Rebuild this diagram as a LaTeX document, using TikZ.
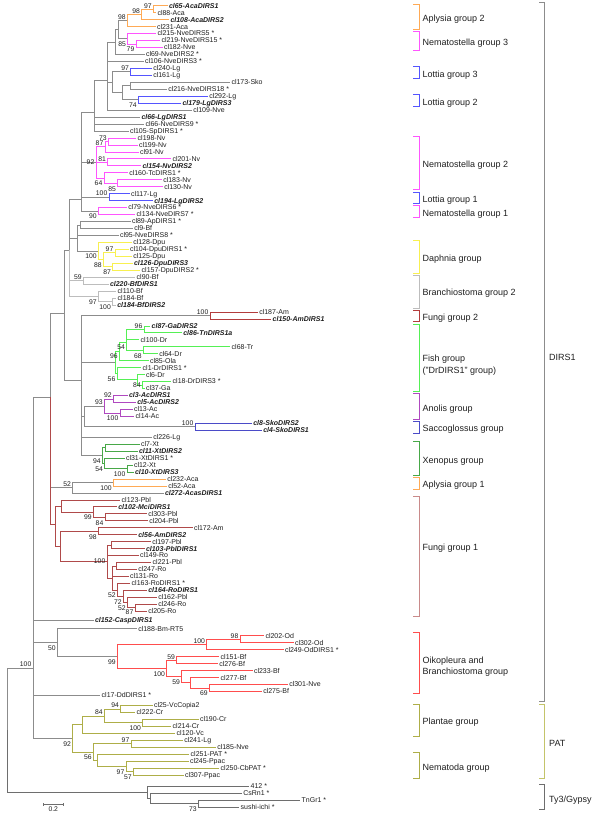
\documentclass[tikz,border=0pt]{standalone}
\usepackage{fontspec}
\setmainfont{Liberation Sans}
\usepackage{xcolor}
\definecolor{leaftxt}{HTML}{1E1E1E}
\definecolor{treegray}{HTML}{8C8C8C}
\definecolor{bflight}{HTML}{BDBDBD}
\definecolor{aplorange}{HTML}{FFAA55}
\definecolor{nvmag}{HTML}{FF55FF}
\definecolor{lgblue}{HTML}{5555FF}
\definecolor{dpuyel}{HTML}{F8F050}
\definecolor{fungitwo}{HTML}{B33C3C}
\definecolor{fishgrn}{HTML}{55F055}
\definecolor{anopurp}{HTML}{B048C0}
\definecolor{skoblue}{HTML}{4B4BC8}
\definecolor{xtgrn}{HTML}{48A848}
\definecolor{fungione}{HTML}{B04A4A}
\definecolor{fungibar}{HTML}{C98A8A}
\definecolor{oikred}{HTML}{FF4D4D}
\definecolor{patolive}{HTML}{AEAE48}
\definecolor{patbar}{HTML}{C4C46A}
\definecolor{tygray}{HTML}{6E6E6E}
\tikzset{
  leaf/.style={anchor=west,inner sep=1.3pt,font=\fontsize{7}{8}\selectfont,text=leaftxt,text height=5.3pt,text depth=0.5pt},
  keyleaf/.style={leaf,font=\fontsize{7}{8}\selectfont\bfseries\itshape},
  bsbase/.style={inner sep=0pt,font=\fontsize{6.8}{7}\selectfont,text=leaftxt},
  bsa/.style={bsbase,anchor=south east,xshift=-1.5pt,yshift=0.9pt},
  bsb/.style={bsbase,anchor=north east,xshift=-1.5pt,yshift=-3pt},
  bsl/.style={bsbase,anchor=east,xshift=-1.5pt},
  br/.style={line width=0.75pt,draw=treegray},
  brBf/.style={br,draw=bflight},
  brApl/.style={br,draw=aplorange},
  brNv/.style={br,draw=nvmag},
  brLg/.style={br,draw=lgblue},
  brDpu/.style={br,draw=dpuyel},
  brFu2/.style={br,draw=fungitwo},
  brFish/.style={br,draw=fishgrn},
  brAno/.style={br,draw=anopurp},
  brSko/.style={br,draw=skoblue},
  brXt/.style={br,draw=xtgrn},
  brFu1/.style={br,draw=fungione},
  brOik/.style={br,draw=oikred},
  brPat/.style={br,draw=patolive},
  brTy/.style={br,draw=tygray},
  grpbar/.style={line width=0.75pt},
  grplbl/.style={anchor=west,inner sep=0pt,font=\fontsize{9}{11.3}\selectfont,align=left,text=leaftxt}
}
% bracket + name of a clade on the right
\newcommand{\grp}[6]{%
  \draw[grpbar,draw=#1] (413.3,#2) -- (419.3,#2) -- (419.3,#3) -- (413.3,#3);
  \node[grplbl] (#6) at (422.5,#4) {#5};}
\newcommand{\famgrp}[6]{%
  \draw[grpbar,draw=#1] (539.3,#2) -- (544.3,#2) -- (544.3,#3) -- (539.3,#3);
  \node[grplbl] (#6) at (549,#4) {#5};}

\begin{document}
\begin{tikzpicture}[x=1pt,y=-1pt]
  \useasboundingbox (0,0) rectangle (600,817);

  % leaves
  \node[keyleaf] (cl65) at (167.5,5.7) {cl65-AcaDIRS1};
  \node[leaf] (cl88) at (156,12.7) {cl88-Aca};
  \node[keyleaf] (cl108) at (169,19.6) {cl108-AcaDIRS2};
  \node[leaf] (cl231) at (155.5,26.6) {cl231-Aca};
  \node[leaf] (cl215) at (156,33.5) {cl215-NveDIRS5 *};
  \node[leaf] (cl219) at (160,40.5) {cl219-NveDIRS15 *};
  \node[leaf] (cl182) at (162.5,47.5) {cl182-Nve};
  \node[leaf] (cl69) at (144.5,54.4) {cl69-NveDIRS2 *};
  \node[leaf] (cl106) at (143.5,61.4) {cl106-NveDIRS3 *};
  \node[leaf] (cl240) at (151.8,68.3) {cl240-Lg};
  \node[leaf] (cl161) at (151.8,75.3) {cl161-Lg};
  \node[leaf] (cl173) at (230,82.3) {cl173-Sko};
  \node[leaf] (cl216) at (166.8,89.2) {cl216-NveDIRS18 *};
  \node[leaf] (cl292) at (207.8,96.2) {cl292-Lg};
  \node[keyleaf] (cl179) at (181,103.1) {cl179-LgDIRS3};
  \node[leaf] (cl109) at (191.8,110.1) {cl109-Nve};
  \node[keyleaf] (cl66lg) at (140,117.1) {cl66-LgDIRS1};
  \node[leaf] (cl66nve) at (144,124.0) {cl66-NveDIRS9 *};
  \node[leaf] (cl105) at (128.5,131.0) {cl105-SpDIRS1 *};
  \node[leaf] (cl198) at (136.2,137.9) {cl198-Nv};
  \node[leaf] (cl199) at (137.5,144.9) {cl199-Nv};
  \node[leaf] (cl91) at (138.5,151.9) {cl91-Nv};
  \node[leaf] (cl201) at (171,158.8) {cl201-Nv};
  \node[keyleaf] (cl154) at (141,165.8) {cl154-NvDIRS2};
  \node[leaf] (cl160) at (127.8,172.7) {cl160-TcDIRS1 *};
  \node[leaf] (cl183) at (161.8,179.7) {cl183-Nv};
  \node[leaf] (cl130) at (162.8,186.7) {cl130-Nv};
  \node[leaf] (cl117) at (129.5,193.6) {cl117-Lg};
  \node[keyleaf] (cl194) at (152.8,200.6) {cl194-LgDIRS2};
  \node[leaf] (cl79) at (126.8,207.5) {cl79-NveDIRS6 *};
  \node[leaf] (cl134) at (135.2,214.5) {cl134-NveDIRS7 *};
  \node[leaf] (cl89) at (130.5,221.5) {cl89-ApDIRS1 *};
  \node[leaf] (cl9) at (132.8,228.4) {cl9-Bf};
  \node[leaf] (cl95) at (118.5,235.4) {cl95-NveDIRS8 *};
  \node[leaf] (cl128) at (131.8,242.3) {cl128-Dpu};
  \node[leaf] (cl104) at (128.5,249.3) {cl104-DpuDIRS1 *};
  \node[leaf] (cl125) at (131.8,256.3) {cl125-Dpu};
  \node[keyleaf] (cl126) at (132.5,263.2) {cl126-DpuDIRS3};
  \node[leaf] (cl157) at (140.2,270.2) {cl157-DpuDIRS2 *};
  \node[leaf] (cl90) at (135.2,277.1) {cl90-Bf};
  \node[keyleaf] (cl220) at (108.5,284.1) {cl220-BfDIRS1};
  \node[leaf] (cl110) at (116.2,291.1) {cl110-Bf};
  \node[leaf] (cl184a) at (116.2,298.0) {cl184-Bf};
  \node[keyleaf] (cl184b) at (115.8,305.0) {cl184-BfDIRS2};
  \node[leaf] (cl187) at (257.8,311.9) {cl187-Am};
  \node[keyleaf] (cl150) at (271.2,318.9) {cl150-AmDIRS1};
  \node[keyleaf] (cl87) at (150.2,325.9) {cl87-GaDIRS2};
  \node[keyleaf] (cl86) at (181.8,332.8) {cl86-TnDIRS1a};
  \node[leaf] (cl100) at (139.2,339.8) {cl100-Dr};
  \node[leaf] (cl68) at (230.2,346.7) {cl68-Tr};
  \node[leaf] (cl64) at (157.8,353.7) {cl64-Dr};
  \node[leaf] (cl85) at (148.5,360.7) {cl85-Ola};
  \node[leaf] (cl1) at (141.2,367.6) {cl1-DrDIRS1 *};
  \node[leaf] (cl6) at (144.5,374.6) {cl6-Dr};
  \node[leaf] (cl18) at (171.2,381.5) {cl18-DrDIRS3 *};
  \node[leaf] (cl37) at (144.5,388.5) {cl37-Ga};
  \node[keyleaf] (cl3) at (127.5,395.5) {cl3-AcDIRS1};
  \node[keyleaf] (cl5) at (135.8,402.4) {cl5-AcDIRS2};
  \node[leaf] (cl13) at (132.5,409.4) {cl13-Ac};
  \node[leaf] (cl14) at (134.2,416.3) {cl14-Ac};
  \node[keyleaf] (cl8) at (251.8,423.3) {cl8-SkoDIRS2};
  \node[keyleaf] (cl4) at (261.8,430.3) {cl4-SkoDIRS1};
  \node[leaf] (cl226) at (151.8,437.2) {cl226-Lg};
  \node[leaf] (cl7) at (139.5,444.2) {cl7-Xt};
  \node[keyleaf] (cl11) at (137.5,451.1) {cl11-XtDIRS2};
  \node[leaf] (cl31) at (124.5,458.1) {cl31-XtDIRS1 *};
  \node[leaf] (cl12) at (132.5,465.1) {cl12-Xt};
  \node[keyleaf] (cl10) at (133.5,472.0) {cl10-XtDIRS3};
  \node[leaf] (cl232) at (165.8,479.0) {cl232-Aca};
  \node[leaf] (cl52) at (166.8,485.9) {cl52-Aca};
  \node[keyleaf] (cl272) at (163.5,492.9) {cl272-AcasDIRS1};
  \node[leaf] (cl123) at (120.2,499.9) {cl123-Pbl};
  \node[keyleaf] (cl102) at (116.8,506.8) {cl102-MciDIRS1};
  \node[leaf] (cl303) at (146.8,513.8) {cl303-Pbl};
  \node[leaf] (cl204) at (147.8,520.7) {cl204-Pbl};
  \node[leaf] (cl172) at (192.5,527.7) {cl172-Am};
  \node[keyleaf] (cl56) at (136.8,534.7) {cl56-AmDIRS2};
  \node[leaf] (cl197) at (150.8,541.6) {cl197-Pbl};
  \node[keyleaf] (cl103) at (144.5,548.6) {cl103-PblDIRS1};
  \node[leaf] (cl149) at (138.5,555.5) {cl149-Ro};
  \node[leaf] (cl221) at (151.2,562.5) {cl221-Pbl};
  \node[leaf] (cl247) at (136.8,569.5) {cl247-Ro};
  \node[leaf] (cl131) at (128.5,576.4) {cl131-Ro};
  \node[leaf] (cl163) at (130.2,583.4) {cl163-RoDIRS1 *};
  \node[keyleaf] (cl164) at (146.8,590.3) {cl164-RoDIRS1};
  \node[leaf] (cl162) at (156.8,597.3) {cl162-Pbl};
  \node[leaf] (cl246) at (156.8,604.3) {cl246-Ro};
  \node[leaf] (cl205) at (146.8,611.2) {cl205-Ro};
  \node[keyleaf] (cl152) at (93.5,620.3) {cl152-CaspDIRS1};
  \node[leaf] (cl188) at (136.8,628.8) {cl188-Bm-RT5};
  \node[leaf] (cl202) at (264,635.8) {cl202-Od};
  \node[leaf] (cl302) at (293.5,642.8) {cl302-Od};
  \node[leaf] (cl249) at (283.5,649.7) {cl249-OdDIRS1 *};
  \node[leaf] (cl151) at (219.2,656.7) {cl151-Bf};
  \node[leaf] (cl276) at (217.8,663.6) {cl276-Bf};
  \node[leaf] (cl233) at (252.5,670.6) {cl233-Bf};
  \node[leaf] (cl277) at (219.2,677.6) {cl277-Bf};
  \node[leaf] (cl301) at (287.8,684.5) {cl301-Nve};
  \node[leaf] (cl275) at (261.8,691.5) {cl275-Bf};
  \node[leaf] (cl17) at (100.2,695.5) {cl17-DdDIRS1 *};
  \node[leaf] (cl25) at (152.5,705.4) {cl25-VcCopia2};
  \node[leaf] (cl222) at (135.2,712.4) {cl222-Cr};
  \node[leaf] (cl190) at (198.5,719.3) {cl190-Cr};
  \node[leaf] (cl214) at (171.2,726.3) {cl214-Cr};
  \node[leaf] (cl120) at (175.2,733.2) {cl120-Vc};
  \node[leaf] (cl241) at (182.8,740.2) {cl241-Lg};
  \node[leaf] (cl185) at (215.8,747.2) {cl185-Nve};
  \node[leaf] (cl251) at (189.2,754.1) {cl251-PAT *};
  \node[leaf] (cl245) at (188.5,761.1) {cl245-Ppac};
  \node[leaf] (cl250) at (219.2,768.0) {cl250-CbPAT *};
  \node[leaf] (cl307) at (183.5,775.0) {cl307-Ppac};
  \node[leaf] (g412) at (249.2,786.0) {412 *};
  \node[leaf] (csrn1) at (241.8,793.0) {CsRn1 *};
  \node[leaf] (tngr1) at (300.2,800.0) {TnGr1 *};
  \node[leaf] (sushi) at (239.2,807.0) {sushi-ichi *};

  % inner nodes
  \coordinate (n97a) at (153.3,9.2);
  \coordinate (n98a) at (141.7,14.4);
  \coordinate (n98b) at (127.3,20.5);
  \coordinate (n79) at (136,44);
  \coordinate (n85) at (127.7,38.8);
  \coordinate (nAN) at (118.5,29.6);
  \coordinate (nAN2) at (115.7,42);
  \coordinate (n97b) at (130.7,71.8);
  \coordinate (nSko) at (130.7,85.8);
  \coordinate (n74) at (138.3,99.7);
  \coordinate (nX) at (122.3,92.7);
  \coordinate (nLg) at (112.7,82.3);
  \coordinate (nP1) at (107.3,80);
  \coordinate (nE) at (94.7,112);
  \coordinate (n73) at (108.3,141.4);
  \coordinate (n87) at (105,146.7);
  \coordinate (n81) at (107.7,162.3);
  \coordinate (n85b) at (117.7,183.2);
  \coordinate (n64) at (104,178);
  \coordinate (n92) at (96,162.3);
  \coordinate (n100c) at (109,197.1);
  \coordinate (n90) at (98.3,211);
  \coordinate (nD) at (81.7,199);
  \coordinate (nF) at (80.3,225);
  \coordinate (n97d) at (115,252.8);
  \coordinate (n87b) at (112.7,266.7);
  \coordinate (n88) at (103.3,259.8);
  \coordinate (n100d) at (98.3,251);
  \coordinate (nG) at (77.7,238);
  \coordinate (n59) at (83.3,280.6);
  \coordinate (n100e) at (112.5,301.5);
  \coordinate (n97c) at (98.3,296.3);
  \coordinate (nC) at (69.3,250);
  \coordinate (n100f) at (210,315.4);
  \coordinate (n96b) at (144,329.4);
  \coordinate (n68) at (143.3,350.2);
  \coordinate (n54) at (126.7,342);
  \coordinate (n96) at (119.3,351);
  \coordinate (n84) at (142.5,385);
  \coordinate (nSub) at (137.3,379.8);
  \coordinate (n56) at (117,373.7);
  \coordinate (nFish) at (115,362);
  \coordinate (n92b) at (113.3,399);
  \coordinate (n100g) at (120,412.9);
  \coordinate (n93) at (104.3,406);
  \coordinate (n100h) at (195,426.8);
  \coordinate (nI) at (84.3,416.4);
  \coordinate (n7) at (105,447.7);
  \coordinate (n100i) at (127,468.6);
  \coordinate (n54b) at (104.7,463.4);
  \coordinate (n94) at (102.3,455.6);
  \coordinate (nH) at (81,380);
  \coordinate (nB) at (64.3,313);
  \coordinate (n100j) at (113.3,482.5);
  \coordinate (n52) at (72.7,487.7);
  \coordinate (n84b) at (105,517.3);
  \coordinate (n99) at (93.3,512);
  \coordinate (nK) at (61.7,506);
  \coordinate (n98c) at (98.3,531.2);
  \coordinate (nM1) at (111.7,545.1);
  \coordinate (nM3) at (116,566);
  \coordinate (n87c) at (135,607.8);
  \coordinate (n52c) at (127.3,602.5);
  \coordinate (n72) at (123.3,596.4);
  \coordinate (nM4) at (117.3,589.9);
  \coordinate (nM2) at (112.7,578);
  \coordinate (n100k) at (107,561.5);
  \coordinate (nL) at (60.5,546.4);
  \coordinate (nFu1) at (55,524);
  \coordinate (nA) at (50.7,397);
  \coordinate (n98d) at (240,639.3);
  \coordinate (n100l) at (206.7,644.5);
  \coordinate (n59b) at (176.7,660.2);
  \coordinate (n69) at (209.3,688);
  \coordinate (nQ) at (190,682.8);
  \coordinate (n59c) at (181.7,676.7);
  \coordinate (n100m) at (166.7,668.5);
  \coordinate (n99b) at (117.3,656.5);
  \coordinate (n50) at (57.3,642.7);
  \coordinate (n94c) at (120.7,708.9);
  \coordinate (n100n) at (142.7,722.8);
  \coordinate (n84c) at (104.3,715.9);
  \coordinate (nPl) at (82.7,724.6);
  \coordinate (n97e) at (131,743.7);
  \coordinate (n57) at (133.3,771.5);
  \coordinate (n97f) at (126,766.3);
  \coordinate (nN2) at (97.3,760.2);
  \coordinate (n56b) at (93.3,752);
  \coordinate (n92c) at (72.7,738.3);
  \coordinate (n100r) at (33,668);
  \coordinate (n73b) at (198.3,803.5);
  \coordinate (nT2) at (150.7,798.3);
  \coordinate (nT1) at (147.3,792.1);
  \coordinate (root) at (7.3,730);

  % branches
  \foreach \p/\c in {root/n100r,n100r/nA,n100r/cl152,n100r/n50,n100r/cl17,n100r/n92c,
      nA/nB,nA/n52,nB/nC,nB/nH,nC/nD,nC/nG,nD/nE,nD/n92,nD/n100c,nD/n90,
      nE/nP1,nE/cl66lg,nE/cl66nve,nE/cl105,nP1/nAN2,nP1/cl106,nP1/nLg,nP1/cl109,
      nAN2/nAN,nAN2/cl69,nAN/n98b,nAN/n85,nLg/n97b,nLg/nX,nX/nSko,nX/n74,
      nSko/cl173,nSko/cl216,nG/nF,nG/cl95,nG/n100d,nF/cl89,nF/cl9,
      nH/n100f,nH/nFish,nH/nI,nH/cl226,nH/n94,nI/n93,nI/n100h,
      n52/n100j,n52/cl272,n50/cl188,n50/n99b}
    \draw[br] (\p) |- (\c);
  \foreach \p/\c in {nC/n59,nC/n97c,n59/cl90,n59/cl220,n97c/cl110,n97c/n100e,n100e/cl184a,n100e/cl184b}
    \draw[brBf] (\p) |- (\c);
  \foreach \p/\c in {n98b/n98a,n98b/cl231,n98a/n97a,n98a/cl108,n97a/cl65,n97a/cl88,n100j/cl232,n100j/cl52}
    \draw[brApl] (\p) |- (\c);
  \foreach \p/\c in {n85/cl215,n85/n79,n79/cl219,n79/cl182,
      n92/n87,n92/n81,n92/n64,n87/n73,n87/cl91,n73/cl198,n73/cl199,n81/cl201,n81/cl154,
      n64/cl160,n64/n85b,n85b/cl183,n85b/cl130,n90/cl79,n90/cl134}
    \draw[brNv] (\p) |- (\c);
  \foreach \p/\c in {n97b/cl240,n97b/cl161,n74/cl292,n74/cl179,n100c/cl117,n100c/cl194}
    \draw[brLg] (\p) |- (\c);
  \foreach \p/\c in {n100d/cl128,n100d/n88,n88/n97d,n88/n87b,n97d/cl104,n97d/cl125,n87b/cl126,n87b/cl157}
    \draw[brDpu] (\p) |- (\c);
  \foreach \p/\c in {n100f/cl187,n100f/cl150}
    \draw[brFu2] (\p) |- (\c);
  \foreach \p/\c in {nFish/n96,nFish/n56,n96/n54,n96/cl85,n54/n96b,n54/cl100,n54/n68,
      n96b/cl87,n96b/cl86,n68/cl68,n68/cl64,n56/cl1,n56/nSub,nSub/cl6,nSub/n84,n84/cl18,n84/cl37}
    \draw[brFish] (\p) |- (\c);
  \foreach \p/\c in {n93/n92b,n93/n100g,n92b/cl3,n92b/cl5,n100g/cl13,n100g/cl14}
    \draw[brAno] (\p) |- (\c);
  \foreach \p/\c in {n100h/cl8,n100h/cl4}
    \draw[brSko] (\p) |- (\c);
  \foreach \p/\c in {n94/n7,n94/n54b,n7/cl7,n7/cl11,n54b/cl31,n54b/n100i,n100i/cl12,n100i/cl10}
    \draw[brXt] (\p) |- (\c);
  \foreach \p/\c in {nA/nFu1,nFu1/nK,nFu1/nL,nK/cl123,nK/n99,n99/cl102,n99/n84b,n84b/cl303,n84b/cl204,
      nL/n98c,nL/n100k,n98c/cl172,n98c/cl56,n100k/nM1,n100k/cl149,n100k/nM2,nM1/cl197,nM1/cl103,
      nM2/nM3,nM2/cl131,nM2/nM4,nM3/cl221,nM3/cl247,nM4/cl163,nM4/n72,n72/cl164,n72/n52c,
      n52c/cl162,n52c/n87c,n87c/cl246,n87c/cl205}
    \draw[brFu1] (\p) |- (\c);
  \foreach \p/\c in {n99b/n100l,n99b/n100m,n100l/n98d,n100l/cl249,n98d/cl202,n98d/cl302,
      n100m/n59b,n100m/n59c,n59b/cl151,n59b/cl276,n59c/cl233,n59c/nQ,nQ/cl277,nQ/n69,n69/cl301,n69/cl275}
    \draw[brOik] (\p) |- (\c);
  \foreach \p/\c in {n92c/nPl,n92c/n56b,nPl/n84c,nPl/cl120,n84c/n94c,n84c/n100n,n94c/cl25,n94c/cl222,
      n100n/cl190,n100n/cl214,n56b/n97e,n56b/nN2,n97e/cl241,n97e/cl185,nN2/cl251,nN2/n97f,
      n97f/cl245,n97f/n57,n57/cl250,n57/cl307}
    \draw[brPat] (\p) |- (\c);
  \foreach \p/\c in {root/nT1,nT1/g412,nT1/nT2,nT2/csrn1,nT2/n73b,n73b/tngr1,n73b/sushi}
    \draw[brTy] (\p) |- (\c);

  % bootstrap values
  \foreach \n/\v in {n97a/97,n98a/98,n98b/98,n97b/97,n73/73,n87/87,n81/81,n100c/100,n97d/97,n59/59,
      n100f/100,n96b/96,n92b/92,n93/93,n100h/100,n52/52,n98d/98,n100l/100,n59b/59,n100r/100,
      n94c/94,n84c/84,n97e/97}
    \node[bsa] (b\n) at (\n) {\v};
  \foreach \n/\v in {n85/85,n79/79,n74/74,n64/64,n85b/85,n90/90,n100d/100,n88/88,n87b/87,n97c/97,
      n100e/100,n54/54,n96/96,n68/68,n56/56,n100g/100,n94/94,n54b/54,n100i/100,n100j/100,n99/99,
      n84b/84,n98c/98,nM4/52,n72/72,n52c/52,n50/50,n99b/99,n100m/100,n59c/59,n69/69,
      n100n/100,n92c/92,n56b/56,n97f/97,n57/57,n73b/73}
    \node[bsb] (b\n) at (\n) {\v};
  \foreach \n/\v in {n92/92,n84/84,n100k/100}
    \node[bsl] (b\n) at (\n) {\v};
  \node[bsb,yshift=0.8pt] (bn87c) at (n87c) {87};

  % scale bar
  \coordinate (sbl) at (43.3,804.3);
  \coordinate (sbr) at (63.3,804.3);
  \draw[brTy,line width=0.6pt] (sbl) -- (sbr);
  \draw[brTy,line width=0.6pt] ([yshift=1.3pt]sbl) -- ([yshift=-1.3pt]sbl);
  \draw[brTy,line width=0.6pt] ([yshift=1.3pt]sbr) -- ([yshift=-1.3pt]sbr);
  \node[bsbase,anchor=north] (sblbl) at (53.3,806.6) {0.2};

  % clades
  \grp{aplorange}{4}{29.3}{19}{Aplysia group 2}{gApl2}
  \grp{nvmag}{31.7}{50.7}{43.3}{Nematostella group 3}{gNv3}
  \grp{lgblue}{66}{78.3}{74.7}{Lottia group 3}{gLg3}
  \grp{lgblue}{94.3}{106}{102.7}{Lottia group 2}{gLg2}
  \grp{nvmag}{136}{189.3}{165}{Nematostella group 2}{gNv2}
  \grp{lgblue}{192}{203.3}{200}{Lottia group 1}{gLg1}
  \grp{nvmag}{205.7}{217.3}{213.7}{Nematostella group 1}{gNv1}
  \grp{dpuyel}{240}{273.3}{258.7}{Daphnia group}{gDpu}
  \grp{bflight}{275}{308.3}{293.3}{Branchiostoma group 2}{gBf2}
  \grp{fungitwo}{310}{321.7}{318.3}{Fungi group 2}{gFu2}
  \grp{fishgrn}{324}{391.7}{365.3}{Fish group\\("DrDIRS1" group)}{gFish}
  \grp{anopurp}{393.3}{419.3}{409}{Anolis group}{gAno}
  \grp{skoblue}{421.7}{433.3}{429.3}{Saccoglossus group}{gSko}
  \grp{xtgrn}{441.7}{475}{461}{Xenopus group}{gXt}
  \grp{aplorange}{477.3}{489.3}{485.3}{Aplysia group 1}{gApl1}
  \grp{fungibar}{496}{616.7}{548.3}{Fungi group 1}{gFu1}
  \grp{oikred}{632.7}{693.3}{666.7}{Oikopleura and\\Branchiostoma group}{gOik}
  \grp{patolive}{704}{736}{722.3}{Plantae group}{gPla}
  \grp{patolive}{752.3}{778.3}{768}{Nematoda group}{gNem}
  \famgrp{treegray}{2.7}{701}{357.7}{DIRS1}{fDirs}
  \famgrp{patbar}{704}{778.3}{743.3}{PAT}{fPat}
  \famgrp{tygray}{784.3}{809.3}{800}{Ty3/Gypsy}{fTy}
\end{tikzpicture}
\end{document}
